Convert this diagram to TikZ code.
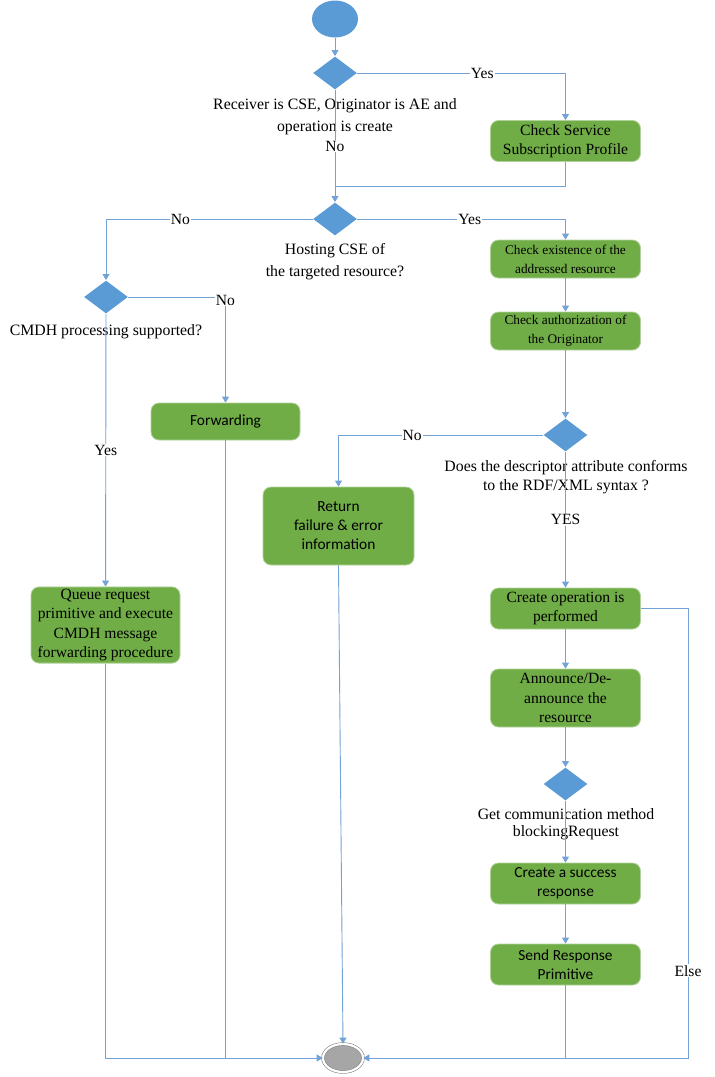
\documentclass[tikz,border=0pt]{standalone}
\usepackage{fontspec}
\setmainfont{Liberation Serif}
\newfontfamily\calibri{Carlito}
\usetikzlibrary{arrows.meta,shapes.geometric}

\definecolor{flowblue}{RGB}{91,155,213}
\definecolor{flowline}{RGB}{114,162,214}
\definecolor{actgreen}{RGB}{112,173,71}
\definecolor{endgray}{RGB}{166,166,166}

\tikzset{
  start/.style={ellipse, fill=flowblue, minimum width=46pt, minimum height=37pt, inner sep=0pt},
  stop/.style={ellipse, fill=endgray, draw=endgray!80!black, line width=0.6pt, double=white, double distance=2.2pt, minimum width=40pt, minimum height=28pt, inner sep=0pt},
  decision/.style={diamond, fill=flowblue, minimum width=44pt, minimum height=33pt, inner sep=0pt},
  action/.style={rectangle, rounded corners=8pt, fill=actgreen, draw=actgreen!55!white, line width=0.8pt, minimum width=150pt, inner sep=2pt, align=center, font=\fontsize{15.6}{19.5}\selectfont},
  action small/.style={action, font=\fontsize{13.3}{19}\selectfont},
  action sans/.style={action, font=\calibri\fontsize{15.4}{19}\selectfont},
  question/.style={align=center, inner sep=0pt, font=\fontsize{15.8}{22}\selectfont},
  lbl/.style={fill=white, inner sep=1pt, font=\fontsize{15.6}{16}\selectfont},
}

\begin{document}
\begin{tikzpicture}[x=1pt, y=-1pt, >={Triangle[width=7pt,length=6pt]}, line width=0.9pt, draw=flowline]
    \useasboundingbox (0,0) rectangle (715,1077);

    % Nodes {start, d1..d5, actions, stop}
    \node [start]                                        (start)    at (335,19)      {};
    \node [decision]                                     (d1)       at (335,73)      {};
    \node [question]                                     (q1)       at (335,117)     {Receiver is CSE, Originator is AE and\\operation is create};
    \node [action, minimum height=41pt]                  (csp)      at (565.5,141)   {Check Service\\Subscription Profile};
    \coordinate                                          (j1)       at (335,186);

    \node [decision]                                     (d2)       at (335,219)     {};
    \node [question]                                     (q2)       at (335,262)     {Hosting CSE of\\the targeted resource?};
    \node [action small, minimum height=38pt]            (exist)    at (565.5,259)   {Check existence of the\\addressed resource};
    \node [action small, minimum height=38pt]            (auth)     at (565.5,331)   {Check authorization of\\the Originator};

    \node [decision]                                     (d3)       at (106,297)     {};
    \node [question]                                     (q3)       at (106,332)     {CMDH processing supported?};
    \node [action sans, minimum width=149pt, minimum height=37pt] (fwd) at (225.5,421.5) {Forwarding};
    \node [action, minimum width=149pt, minimum height=75pt] (queue) at (105.5,625)  {Queue request\\primitive and execute\\CMDH message\\forwarding procedure};

    \node [decision]                                     (d4)       at (565.5,435)   {};
    \node [question, font=\fontsize{15.8}{19}\selectfont] (q4)      at (566,477.5)   {Does the descriptor attribute conforms\\to the RDF/XML syntax ?};
    \node [action sans, minimum width=151pt, minimum height=78pt] (ret) at (338.5,526) {Return\\failure \& error\\information};

    \node [action, minimum height=41pt]                  (create)   at (565.5,608.5) {Create operation is\\performed};
    \node [action, minimum height=58pt]                  (announce) at (565.5,698)   {Announce/De-\\announce the\\resource};
    \node [decision]                                     (d5)       at (565.5,784)   {};
    \node [question, font=\fontsize{15.8}{17}\selectfont] (q5)      at (566,824.5)   {Get communication method\\blockingRequest};
    \node [action sans, minimum height=41pt]             (succ)     at (565.5,883.5) {Create a success\\response};
    \node [action sans, minimum height=41pt]             (send)     at (565.5,964.5) {Send Response\\Primitive};

    \node [stop]                                         (stop)     at (343,1058)    {};
    \coordinate                                          (elseTop)  at (688,608.5);
    \coordinate                                          (elseBot)  at (688,1058);
    \coordinate                                          (sendBot)  at (565.5,1058);
    \coordinate                                          (fwdBot)   at (225.5,1058);

    % Paths
    \path [->]  (start)  edge                                   (d1);
    \draw [->]  (d1.east) -| node [lbl, pos=0.3] {Yes}          (csp.north);
    \path [->]  (d1)     edge node [lbl] {No}                   (d2);
    \draw       (csp.south) |-                                  (j1);

    \draw [->]  (d2.west) -| node [lbl, pos=0.32] {No}          (d3.north);
    \draw [->]  (d2.east) -| node [lbl, pos=0.27] {Yes}         (exist.north);
    \path [->]  (exist)  edge                                   (auth);
    \path [->]  (auth)   edge                                   (d4);

    \draw [->]  (d3.east) -| node [lbl, pos=0.5, yshift=-3pt] {No} (fwd.north);
    \path [->]  (d3)     edge node [lbl] {Yes}                  (queue);

    \draw [->]  (d4.west) -| node [lbl, pos=0.32] {No}          (ret.north);
    \path [->]  (d4)     edge node [lbl] {YES}                  (create);
    \path [->]  (create) edge                                   (announce);
    \path [->]  (announce) edge                                 (d5);
    \path [->]  (d5)     edge                                   (succ);
    \path [->]  (succ)   edge                                   (send);

    \draw [->]  (create.east) -- (elseTop) -- node [lbl, pos=0.806] {Else} (elseBot) -- (stop.east);
    \draw       (send)   --                                     (sendBot);
    \draw [->]  (queue.south) |-                                (stop.west);
    \draw       (fwd)    --                                     (fwdBot);
    \draw [->]  (ret.south) --                                  (stop.north);
\end{tikzpicture}
\end{document}
